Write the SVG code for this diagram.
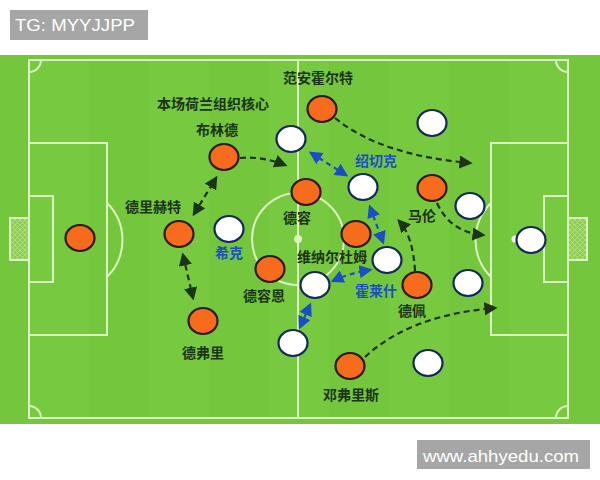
<svg xmlns="http://www.w3.org/2000/svg" width="600" height="480" viewBox="0 0 600 480">
<defs>
<style>
.ln{fill:none;stroke:#dcf3c4;stroke-width:2}
.or{fill:#f76b1c;stroke:#2b1a0e;stroke-width:2.2}
.wh{fill:#ffffff;stroke:#14285a;stroke-width:2.2}
.lb{font-family:"Noto Sans CJK SC","Liberation Sans",sans-serif;font-weight:bold;font-size:14px;fill:#1c3318;text-anchor:middle}
.bl{font-family:"Noto Sans CJK SC","Liberation Sans",sans-serif;font-weight:bold;font-size:14px;fill:#1a4fc4;text-anchor:middle}
.da{fill:none;stroke:#1c3318;stroke-width:2.2;stroke-dasharray:6 4}
.db{fill:none;stroke:#1a4fc4;stroke-width:2.2;stroke-dasharray:5 4}
.wm{font-family:"Liberation Sans",Arial,sans-serif;font-size:17px;fill:#ffffff}
</style>
<marker id="ah" viewBox="0 0 10 10" refX="8" refY="5" markerWidth="6" markerHeight="6" orient="auto-start-reverse"><path d="M0,0 L10,5 L0,10 z" fill="#1c3318"/></marker>
<marker id="ab" viewBox="0 0 10 10" refX="8" refY="5" markerWidth="6" markerHeight="6" orient="auto-start-reverse"><path d="M0,0 L10,5 L0,10 z" fill="#1a4fc4"/></marker>
<pattern id="net" width="5" height="5" patternUnits="userSpaceOnUse"><rect width="5" height="5" fill="#8fcf55"/><path d="M0,0 L5,5 M5,0 L0,5" stroke="#b5df8a" stroke-width="0.8"/></pattern>
</defs>
<rect width="600" height="480" fill="#ffffff"/>
<g id="field">
<rect x="0" y="55" width="600" height="369" fill="#74c63c"/>
<rect x="29" y="60" width="60" height="358" fill="#7acb41" opacity="0.6"/>
<rect x="149" y="60" width="60" height="358" fill="#7acb41" opacity="0.6"/>
<rect x="269" y="60" width="60" height="358" fill="#7acb41" opacity="0.6"/>
<rect x="389" y="60" width="60" height="358" fill="#7acb41" opacity="0.6"/>
<rect x="509" y="60" width="60" height="358" fill="#7acb41" opacity="0.6"/>
<rect class="ln" x="29" y="60" width="539" height="358"/>
<line class="ln" x1="298" y1="60" x2="298" y2="418"/>
<circle class="ln" cx="298" cy="239" r="46"/>
<circle cx="298" cy="239" r="4" fill="#dcf3c4"/>
<rect class="ln" x="29" y="143" width="78" height="192"/>
<rect class="ln" x="29" y="196" width="24" height="86"/>
<rect x="10" y="218" width="19" height="42" fill="url(#net)" stroke="#dcf3c4" stroke-width="2"/>
<path class="ln" d="M107,203 A52,52 0 0 1 107,277"/>
<rect class="ln" x="491" y="143" width="77" height="192"/>
<rect class="ln" x="544" y="196" width="24" height="86"/>
<rect x="568" y="218" width="19" height="42" fill="url(#net)" stroke="#dcf3c4" stroke-width="2"/>
<path class="ln" d="M491,203 A52,52 0 0 0 491,277"/>
<circle cx="515" cy="239" r="3.5" fill="#f4fbee"/>
<path class="ln" d="M29,72 A12,12 0 0 0 41,60"/>
<path class="ln" d="M556,60 A12,12 0 0 0 568,72"/>
<path class="ln" d="M29,406 A12,12 0 0 1 41,418"/>
<path class="ln" d="M556,418 A12,12 0 0 1 568,406"/>
</g>
<g id="connectors">
<path class="da" d="M240,158 Q262,156 285,165" marker-end="url(#ah)"/>
<path class="da" d="M194,214 L216,178" marker-start="url(#ah)" marker-end="url(#ah)"/>
<path class="da" d="M183,255 L193,298" marker-start="url(#ah)" marker-end="url(#ah)"/>
<path class="da" d="M335,118 Q380,155 470,163" marker-end="url(#ah)"/>
<path class="db" d="M311,153 L346,175" marker-start="url(#ab)" marker-end="url(#ab)"/>
<path class="db" d="M370,207 L383,242" marker-start="url(#ab)" marker-end="url(#ab)"/>
<path class="da" d="M437,203 Q450,232 483,235" marker-end="url(#ah)"/>
<path class="da" d="M415,271 Q413,236 399,221" marker-end="url(#ah)"/>
<path class="db" d="M333,281 Q350,273 370,270" marker-start="url(#ab)" marker-end="url(#ab)"/>
<path class="db" d="M310,305 L300,327" marker-start="url(#ab)" marker-end="url(#ab)"/>
<path class="da" d="M365,357 Q410,315 495,308" marker-end="url(#ah)"/>
</g>
<g id="p-gk"><ellipse class="or" cx="80" cy="238" rx="14.5" ry="13"/></g>
<g id="p-deligt"><ellipse class="or" cx="179" cy="234" rx="14.5" ry="13"/><text class="lb" x="153" y="212">德里赫特</text></g>
<g id="p-blind"><ellipse class="or" cx="224" cy="157" rx="14.5" ry="13"/><text class="lb" x="217" y="135">布林德</text><text class="lb" x="213" y="109">本场荷兰组织核心</text></g>
<g id="p-vanaanholt"><ellipse class="or" cx="322" cy="109" rx="14.5" ry="13"/><text class="lb" x="318" y="83">范安霍尔特</text></g>
<g id="p-dejong"><ellipse class="or" cx="306" cy="192" rx="14.5" ry="13"/><text class="lb" x="297" y="223">德容</text></g>
<g id="p-wijnaldum"><ellipse class="or" cx="356" cy="234" rx="14.5" ry="13"/><text class="lb" x="332" y="262">维纳尔杜姆</text></g>
<g id="p-dejonge"><ellipse class="or" cx="270" cy="269" rx="14.5" ry="13"/><text class="lb" x="264" y="301">德容恩</text></g>
<g id="p-devrij"><ellipse class="or" cx="203" cy="321" rx="14.5" ry="13"/><text class="lb" x="203" y="358">德弗里</text></g>
<g id="p-malen"><ellipse class="or" cx="432" cy="188" rx="14.5" ry="13"/><text class="lb" x="422" y="221">马伦</text></g>
<g id="p-depay"><ellipse class="or" cx="417" cy="285" rx="14.5" ry="13"/><text class="lb" x="412" y="316">德佩</text></g>
<g id="p-dumfries"><ellipse class="or" cx="350" cy="366" rx="14.5" ry="13"/><text class="lb" x="351" y="400">邓弗里斯</text></g>
<g id="w-1"><ellipse class="wh" cx="291" cy="139" rx="14.5" ry="13"/></g>
<g id="w-2"><ellipse class="wh" cx="432" cy="123" rx="14.5" ry="13"/></g>
<g id="w-soucek"><ellipse class="wh" cx="363" cy="187" rx="14.5" ry="13"/><text class="bl" x="376" y="166">绍切克</text></g>
<g id="w-3"><ellipse class="wh" cx="470" cy="206" rx="14.5" ry="13"/></g>
<g id="w-gk"><ellipse class="wh" cx="531" cy="240" rx="14.5" ry="13"/></g>
<g id="w-schick"><ellipse class="wh" cx="229" cy="229" rx="14.5" ry="13"/><text class="bl" x="229" y="258">希克</text></g>
<g id="w-4"><ellipse class="wh" cx="387" cy="260" rx="14.5" ry="13"/></g>
<g id="w-holes"><ellipse class="wh" cx="315" cy="285" rx="14.5" ry="13"/><text class="bl" x="376" y="296">霍莱什</text></g>
<g id="w-5"><ellipse class="wh" cx="293" cy="343" rx="14.5" ry="13"/></g>
<g id="w-6"><ellipse class="wh" cx="468" cy="283" rx="14.5" ry="13"/></g>
<g id="w-7"><ellipse class="wh" cx="428" cy="363" rx="14.5" ry="13"/></g>
<g id="tag-top"><rect x="10" y="10" width="138" height="30" fill="#a6a6a6"/><text class="wm" x="15" y="31" textLength="120" lengthAdjust="spacingAndGlyphs">TG: MYYJJPP</text></g>
<g id="tag-bottom"><rect x="417" y="440" width="173" height="29" fill="#a6a6a6"/><text class="wm" x="423" y="462" font-size="19" textLength="156" lengthAdjust="spacingAndGlyphs">www.ahhyedu.com</text></g>
</svg>
